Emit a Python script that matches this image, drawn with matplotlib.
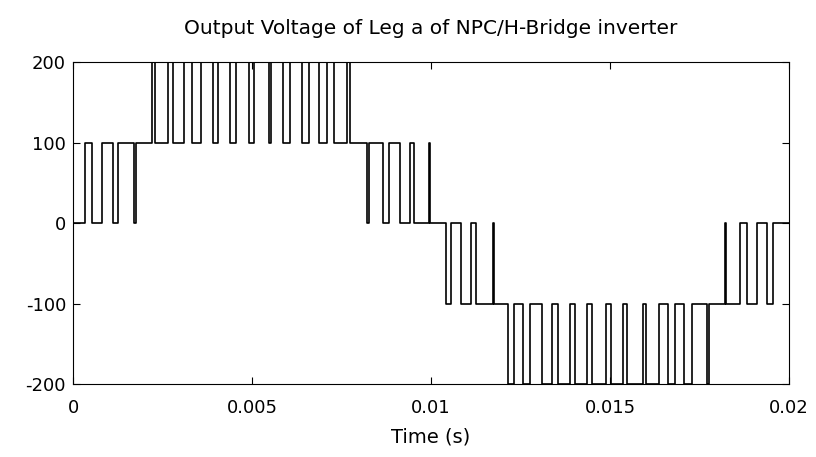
import matplotlib
matplotlib.use("Agg")
import matplotlib.pyplot as plt
import numpy as np

# switching instants (ms) and the level the leg jumps to at each instant
switch_ms = [
    0.344, 0.531, 0.818, 1.117, 1.257, 1.690, 1.746,
    2.215, 2.277, 2.645, 2.802, 3.109, 3.316, 3.575, 3.919, 4.059,
    4.386, 4.545, 4.916, 5.064, 5.461, 5.531, 5.866, 6.048, 6.397,
    6.601, 6.880, 7.095, 7.291, 7.654, 7.737,
    8.221, 8.254, 8.659, 8.827, 9.120, 9.413, 9.525, 9.944, 9.972,
    10.419, 10.545, 10.830, 11.117, 11.257, 11.718, 11.746,
    12.159, 12.318, 12.578, 12.765, 13.092, 13.372, 13.548, 13.883,
    14.022, 14.358, 14.489, 14.888, 15.014, 15.372, 15.475, 15.913,
    16.006, 16.377, 16.620, 16.816, 17.067, 17.277, 17.710, 17.765,
    18.212, 18.240, 18.631, 18.818, 19.098, 19.377, 19.562,
]
switch_level = [
    100, 0, 100, 0, 100, 0, 100,
    200, 100, 200, 100, 200, 100, 200, 100, 200,
    100, 200, 100, 200, 100, 200, 100, 200, 100,
    200, 100, 200, 100, 200, 100,
    0, 100, 0, 100, 0, 100, 0, 100, 0,
    -100, 0, -100, 0, -100, 0, -100,
    -200, -100, -200, -100, -200, -100, -200, -100,
    -200, -100, -200, -100, -200, -100, -200, -100,
    -200, -100, -200, -100, -200, -100, -200, -100,
    0, -100, 0, -100, 0, -100, 0,
]
start_level = 0
t_end = 0.02

x_ticks = [0, 0.005, 0.01, 0.015, 0.02]
x_labels = ["0", "0.005", "0.01", "0.015", "0.02"]
y_ticks = [-200, -100, 0, 100, 200]
y_labels = ["-200", "-100", "0", "100", "200"]

t = np.concatenate([[0.0], np.array(switch_ms) / 1000.0, [t_end]])
v = np.concatenate([[start_level], switch_level, [switch_level[-1]]])

plt.rcParams["font.family"] = ["DejaVu Sans"]

fig = plt.figure(figsize=(8.16, 4.57), dpi=100)
ax = fig.add_axes([0.0895, 0.1597, 0.8775, 0.7046])

ax.plot(t, v, drawstyle="steps-post", color="black", lw=1.2)

ax.set_xlim(0, t_end)
ax.set_ylim(-200, 200)
ax.set_xticks(x_ticks)
ax.set_xticklabels(x_labels)
ax.set_yticks(y_ticks)
ax.set_yticklabels(y_labels)
ax.tick_params(direction="in", length=5, width=0.8, top=True, right=True,
               labelsize=13, color="black")
ax.tick_params(axis="x", pad=11)
ax.tick_params(axis="y", pad=5)
for s in ax.spines.values():
    s.set_linewidth(0.8)

ax.set_title("Output Voltage of Leg a of NPC/H-Bridge inverter", fontsize=14.5, pad=20)
ax.set_xlabel("Time (s)", fontsize=14, labelpad=7)

fig.savefig("out.png", dpi=100)
